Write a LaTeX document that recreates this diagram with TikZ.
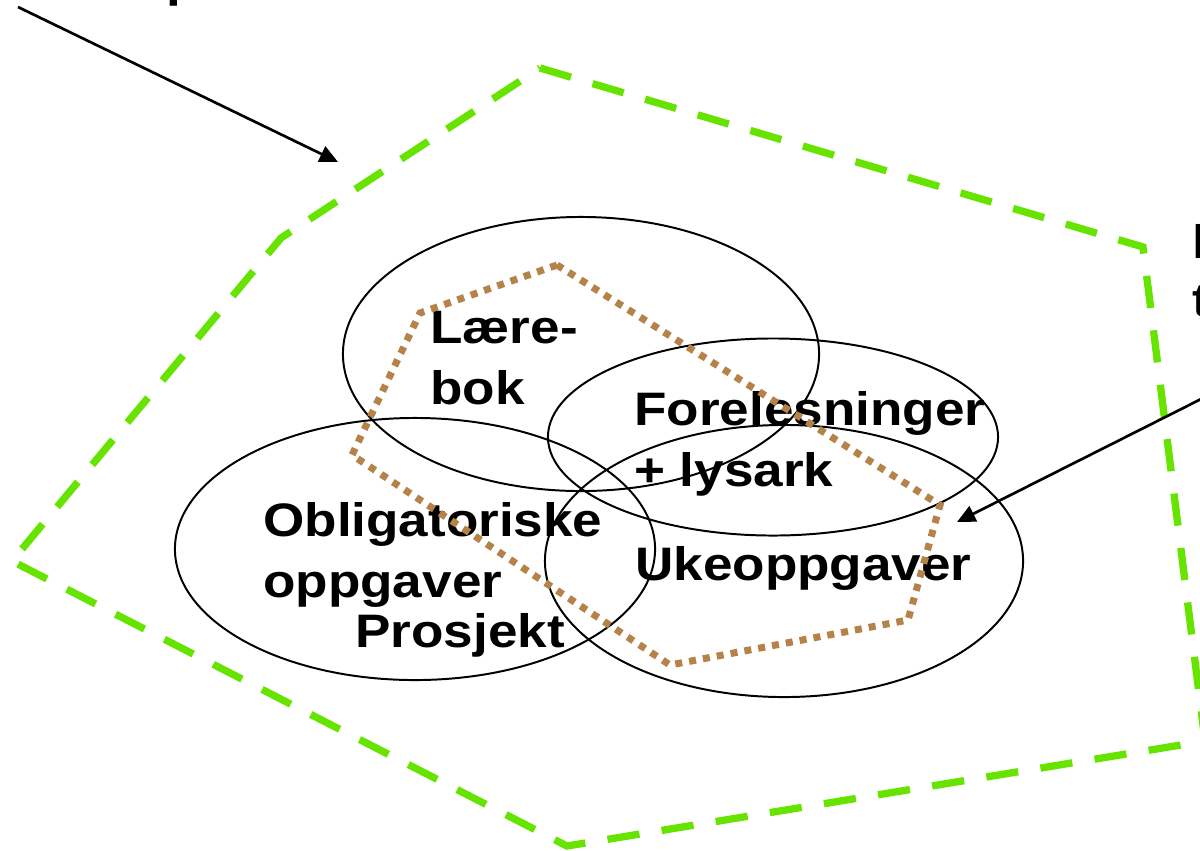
\documentclass[tikz,border=0pt]{standalone}
\usepackage{fontspec}
\newfontfamily\labfont{Liberation Sans}[FakeStretch=1.13]
\usetikzlibrary{arrows.meta,shapes.geometric}
\definecolor{dashgreen}{RGB}{102,228,0}
\definecolor{dotbrown}{RGB}{181,131,74}
\begin{document}
\begin{tikzpicture}[x=0.025cm,y=-0.025cm,
  lab/.style={anchor=base west, inner sep=0pt, align=left,
    font=\labfont\bfseries\fontsize{33.4pt}{42.7pt}\selectfont},
  area/.style={draw=black, line width=1.4pt, ellipse, inner sep=0pt, outer sep=0pt},
  greenline/.style={draw=dashgreen, line width=5.2pt, line cap=butt, dash pattern=on 23pt off 16pt},
  brownline/.style={draw=dotbrown, line width=5pt, line cap=butt, dash pattern=on 5pt off 5pt},
  pointer/.style={draw=black, line width=1.9pt, -{Triangle[length=13pt,width=12pt]}}]
\useasboundingbox (0,0) rectangle (1200,850);
\clip (0,0) rectangle (1200,850);
% outer dashed region
\draw[greenline] (540,68) -- (1143,247) -- (1205,741) -- (567,846) -- (12,561) -- (281,238) -- cycle;
% labels (base = baseline of the last line)
\node[lab] (laere) at (430,404) {Lære-\\bok};
\node[lab] (forel) at (634,486) {Forelesninger\\+ lysark};
\node[lab] (oblig) at (263,597) {Obligatoriske\\oppgaver};
\node[lab] (uke) at (635,580) {Ukeoppgaver};
\node[lab] (prosj) at (355,647) {Prosjekt};
% cut-off texts at the edges, as in the reference
\node[lab] (frag1) at (166,-4) {p};
\node[lab] (frag2) at (1192,258) {l};
\node[lab] (frag3) at (1192,316) {t};
% ellipses
\node[area, minimum width=11.9cm, minimum height=6.85cm] (elaere) at (581,354) {};
\node[area, minimum width=11.25cm, minimum height=4.925cm] (eforel) at (773,437) {};
\node[area, minimum width=12cm, minimum height=6.55cm] (eoblig) at (415,549) {};
\node[area, minimum width=11.95cm, minimum height=6.8cm] (euke) at (784,561) {};
% dotted core region
\draw[brownline] (557,265) -- (420,313) -- (352,455) -- (670,665) -- (908,620) -- (940,505) -- cycle;
% arrows
\coordinate (s1) at (18,7);
\coordinate (t1) at (338,162);
\coordinate (s2) at (1215,392);
\coordinate (t2) at (957,522);
\draw[pointer] (s1) -- (t1);
\draw[pointer] (s2) -- (t2);
\end{tikzpicture}
\end{document}
